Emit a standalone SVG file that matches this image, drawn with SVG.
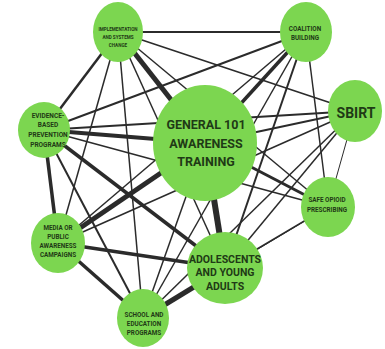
<svg xmlns="http://www.w3.org/2000/svg" width="385" height="349" viewBox="0 0 385 349">
<style>
.e{stroke:#2b2b2b;stroke-linecap:butt;fill:none}
.n{fill:#7cd650}
text{font-family:Roboto,"Liberation Sans",sans-serif;font-weight:bold;fill:#1f3a16;text-anchor:middle}
</style>
<rect width="385" height="349" fill="#ffffff"/>
<g id="connectors">
<line class="e" x1="118" y1="32" x2="306" y2="32" stroke-width="2"/>
<line class="e" x1="118" y1="32" x2="205" y2="143" stroke-width="5"/>
<line class="e" x1="118" y1="32" x2="44" y2="130" stroke-width="2.5"/>
<line class="e" x1="118" y1="32" x2="58" y2="243" stroke-width="1.5"/>
<line class="e" x1="118" y1="32" x2="143" y2="318" stroke-width="1.5"/>
<line class="e" x1="118" y1="32" x2="225" y2="268" stroke-width="1.5"/>
<line class="e" x1="118" y1="32" x2="355" y2="111" stroke-width="1.5"/>
<line class="e" x1="118" y1="32" x2="328" y2="207" stroke-width="1.5"/>
<line class="e" x1="306" y1="32" x2="205" y2="143" stroke-width="3.5"/>
<line class="e" x1="306" y1="32" x2="44" y2="130" stroke-width="2"/>
<line class="e" x1="306" y1="32" x2="58" y2="243" stroke-width="1.5"/>
<line class="e" x1="306" y1="32" x2="143" y2="318" stroke-width="1.5"/>
<line class="e" x1="306" y1="32" x2="225" y2="268" stroke-width="2"/>
<line class="e" x1="306" y1="32" x2="328" y2="207" stroke-width="1.5"/>
<line class="e" x1="44" y1="130" x2="205" y2="143" stroke-width="4"/>
<line class="e" x1="44" y1="130" x2="355" y2="111" stroke-width="2"/>
<line class="e" x1="44" y1="130" x2="58" y2="243" stroke-width="3.5"/>
<line class="e" x1="44" y1="130" x2="143" y2="318" stroke-width="2"/>
<line class="e" x1="44" y1="130" x2="225" y2="268" stroke-width="3.5"/>
<line class="e" x1="44" y1="130" x2="328" y2="207" stroke-width="1.5"/>
<line class="e" x1="205" y1="143" x2="58" y2="243" stroke-width="5"/>
<line class="e" x1="205" y1="143" x2="225" y2="268" stroke-width="6"/>
<line class="e" x1="205" y1="143" x2="355" y2="111" stroke-width="2"/>
<line class="e" x1="205" y1="143" x2="328" y2="207" stroke-width="3"/>
<line class="e" x1="205" y1="143" x2="143" y2="318" stroke-width="1.5"/>
<line class="e" x1="58" y1="243" x2="225" y2="268" stroke-width="3.5"/>
<line class="e" x1="58" y1="243" x2="143" y2="318" stroke-width="3.5"/>
<line class="e" x1="58" y1="243" x2="355" y2="111" stroke-width="1.5"/>
<line class="e" x1="143" y1="318" x2="225" y2="268" stroke-width="5"/>
<line class="e" x1="143" y1="318" x2="355" y2="111" stroke-width="1.5"/>
<line class="e" x1="143" y1="318" x2="328" y2="207" stroke-width="1"/>
<line class="e" x1="225" y1="268" x2="355" y2="111" stroke-width="1.5"/>
<line class="e" x1="225" y1="268" x2="328" y2="207" stroke-width="1.5"/>
<line class="e" x1="355" y1="111" x2="328" y2="207" stroke-width="1"/>
</g>
<g id="node-implementation">
<ellipse class="n" cx="118" cy="32" rx="25" ry="30"/>
<text font-size="4.6"><tspan x="118" y="31">IMPLEMENTATION</tspan><tspan x="118" y="39">AND SYSTEMS</tspan><tspan x="118" y="47">CHANGE</tspan></text>
</g>
<g id="node-coalition">
<ellipse class="n" cx="306" cy="32" rx="26" ry="30"/>
<text font-size="6.3"><tspan x="305" y="31">COALITION</tspan><tspan x="305" y="40">BUILDING</tspan></text>
</g>
<g id="node-evidence">
<ellipse class="n" cx="44" cy="130" rx="26" ry="28"/>
<text font-size="6.5"><tspan x="48" y="118">EVIDENCE-</tspan><tspan x="48" y="127">BASED</tspan><tspan x="48" y="137">PREVENTION</tspan><tspan x="48" y="147">PROGRAMS</tspan></text>
</g>
<g id="node-sbirt">
<ellipse class="n" cx="355" cy="111" rx="27" ry="31"/>
<text font-size="14" x="356" y="118">SBIRT</text>
</g>
<g id="node-general">
<ellipse class="n" cx="205" cy="143" rx="52" ry="58"/>
<text font-size="12.5"><tspan x="206" y="129">GENERAL 101</tspan><tspan x="206" y="148">AWARENESS</tspan><tspan x="206" y="166">TRAINING</tspan></text>
</g>
<g id="node-safe-opioid">
<ellipse class="n" cx="328" cy="207" rx="27" ry="30"/>
<text font-size="6.3"><tspan x="327" y="202">SAFE OPIOID</tspan><tspan x="327" y="212">PRESCRIBING</tspan></text>
</g>
<g id="node-media">
<ellipse class="n" cx="58" cy="243" rx="27" ry="30"/>
<text font-size="6.3"><tspan x="58" y="230">MEDIA OR</tspan><tspan x="58" y="239">PUBLIC</tspan><tspan x="58" y="248">AWARENESS</tspan><tspan x="58" y="257">CAMPAIGNS</tspan></text>
</g>
<g id="node-adolescents">
<ellipse class="n" cx="225" cy="268" rx="38" ry="36"/>
<text font-size="10.5"><tspan x="225" y="263">ADOLESCENTS</tspan><tspan x="225" y="276">AND YOUNG</tspan><tspan x="225" y="290">ADULTS</tspan></text>
</g>
<g id="node-school">
<ellipse class="n" cx="143" cy="318" rx="26" ry="29"/>
<text font-size="6.3"><tspan x="144" y="317">SCHOOL AND</tspan><tspan x="144" y="326">EDUCATION</tspan><tspan x="144" y="335">PROGRAMS</tspan></text>
</g>
</svg>
